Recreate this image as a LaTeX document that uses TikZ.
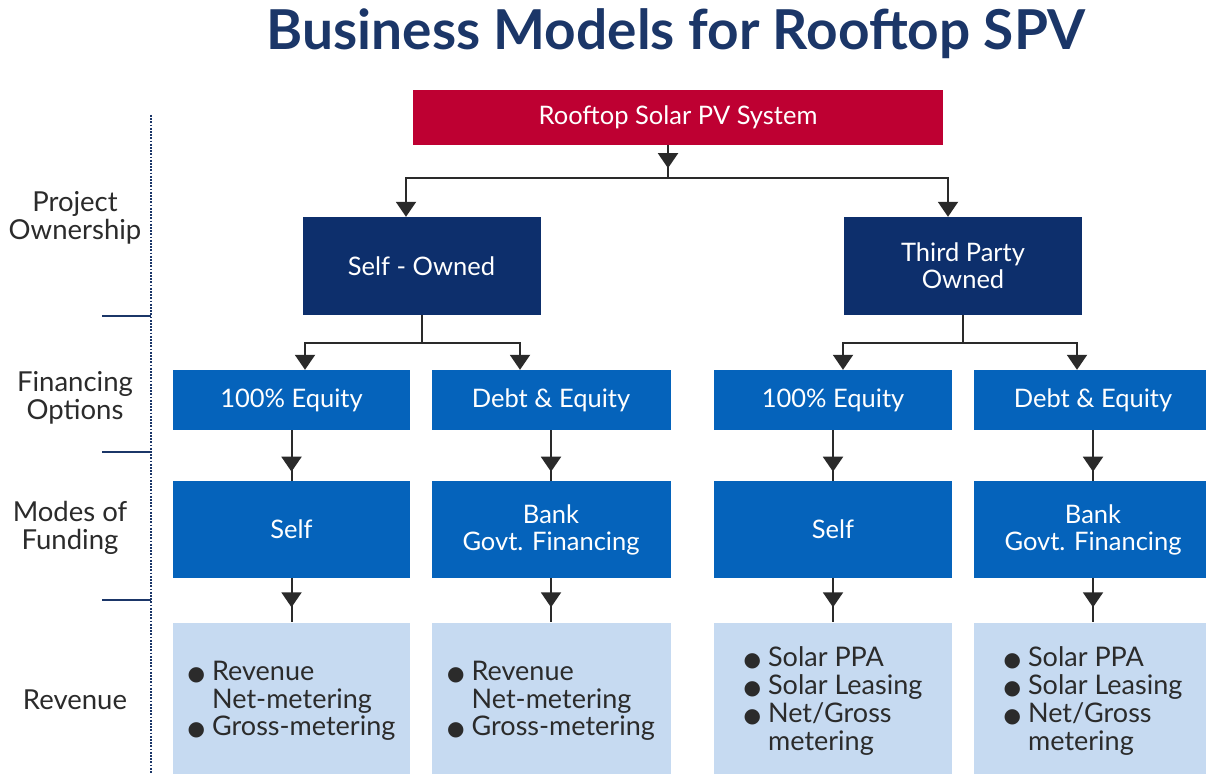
\documentclass[tikz,border=0pt]{standalone}
\usepackage{fontspec}
\setmainfont{Lato}
\newfontfamily\symfont{DejaVu Sans}
\usetikzlibrary{arrows.meta,decorations.markings,calc}

\definecolor{titlenavy}{HTML}{1B3668}
\definecolor{rootred}{HTML}{BE0032}
\definecolor{ownnavy}{HTML}{0D2F6C}
\definecolor{midblue}{HTML}{0563BB}
\definecolor{paleblue}{HTML}{C6DAF1}
\definecolor{inktext}{HTML}{2B2B2B}
\definecolor{linec}{HTML}{2A2A2A}

\newcommand\bul{{\symfont\fontsize{20}{20}\selectfont ●}}
\newcommand\revlist[1]{\raisebox{-4.5pt}[\height][\depth]{%
  \begin{tabular}{@{}c@{\hspace{7pt}}l@{}}#1\end{tabular}}}

\tikzset{
  box/.style={rectangle, inner sep=0pt, align=center, text=white,
    font=\fontsize{25.5}{27}\selectfont},
  rootbox/.style={box, fill=rootred, minimum width=530, minimum height=55},
  ownbox/.style={box, fill=ownnavy, minimum width=238, minimum height=98},
  finbox/.style={box, fill=midblue, minimum height=60},
  modebox/.style={box, fill=midblue, minimum height=97},
  revbox/.style={box, fill=paleblue, text=inktext, minimum height=151,
    font=\fontsize{27}{27}\selectfont},
  sidelabel/.style={align=center, text=inktext, inner sep=0pt,
    font=\fontsize{27.5}{28}\selectfont},
  conn/.style={color=linec, line width=2pt},
  endtip/.style={-{Triangle[width=20pt,length=15pt]}},
  midtip/.style={decoration={markings,
      mark=at position #1 with {\arrow{Triangle[width=20pt,length=15pt]}}},
    postaction={decorate}},
  tick/.style={draw=titlenavy, line width=2.5pt},
}

\begin{document}
\begin{tikzpicture}[x=1pt,y=-1pt]
\useasboundingbox[fill=white] (0,0) rectangle (1206,773);

% title
\node[text=titlenavy, font=\fontsize{55}{55}\selectfont\bfseries] (title) at (676,34)
  {Business Models for Rooftop SPV};

% side scale
\coordinate (scaletop) at (151,115);
\coordinate (scalebot) at (151,773);
\draw[titlenavy, line width=2.4pt, dash pattern=on 1.8pt off 1.4pt] (scaletop) -- (scalebot);
\coordinate (t1) at (151,316);
\coordinate (t2) at (151,452);
\coordinate (t3) at (151,600);
\draw[tick] (t1) -- ++(-49,0);
\draw[tick] (t2) -- ++(-49,0);
\draw[tick] (t3) -- ++(-49,0);

\node[sidelabel] (lab1) at (75,218) {Project\\Ownership};
\node[sidelabel] (lab2) at (75,398) {Financing\\Options};
\node[sidelabel] (lab3) at (70,528) {Modes of\\Funding};
\node[sidelabel] (lab4) at (75,700) {Revenue};

% boxes
\node[rootbox] (root) at (678,117.5) {Rooftop Solar PV System};

\node[ownbox] (self)  at (421.5,266) {Self - Owned};
\node[ownbox] (third) at (963,266) {Third Party\\Owned};

\node[finbox, minimum width=237] (f1) at (291.5,400) {100\% Equity};
\node[finbox, minimum width=239] (f2) at (551,400) {Debt \& Equity};
\node[finbox, minimum width=238] (f3) at (833,400) {100\% Equity};
\node[finbox, minimum width=238] (f4) at (1093,400) {Debt \& Equity};

\node[modebox, minimum width=237] (m1) at (291.5,529.5) {Self};
\node[modebox, minimum width=239] (m2) at (551,529.5) {Bank\\Govt. Financing};
\node[modebox, minimum width=238] (m3) at (833,529.5) {Self};
\node[modebox, minimum width=238] (m4) at (1093,529.5) {Bank\\Govt. Financing};

\node[revbox, minimum width=237] (r1) at (291.5,698)
  {\revlist{\bul & Revenue\\ & Net-metering\\ \bul & Gross-metering}};
\node[revbox, minimum width=239] (r2) at (551,698)
  {\revlist{\bul & Revenue\\ & Net-metering\\ \bul & Gross-metering}};
\node[revbox, minimum width=238] (r3) at (833,698)
  {\revlist{\bul & Solar PPA\\ \bul & Solar Leasing\\ \bul & Net/Gross\\ & metering}};
\node[revbox, minimum width=238] (r4) at (1093,698)
  {\revlist{\bul & Solar PPA\\ \bul & Solar Leasing\\ \bul & Net/Gross\\ & metering}};

% root to ownership
\coordinate (j0) at (668,178);
\draw[conn, midtip=0.7] (j0 |- root.south) -- (j0);
\draw[conn, endtip] (j0) -| ([xshift=-15.5]self.north);
\draw[conn, endtip] (j0) -| ([xshift=-15]third.north);

% ownership to financing
\coordinate (j1) at ($(self.south)+(0,28)$);
\coordinate (j2) at ($(third.south)+(0,28)$);
\draw[conn] (self.south) -- (j1);
\draw[conn, endtip] (j1) -| ([xshift=13.5]f1.north);
\draw[conn, endtip] (j1) -| ([xshift=-31]f2.north);
\draw[conn] (third.south) -- (j2);
\draw[conn, endtip] (j2) -| ([xshift=10]f3.north);
\draw[conn, endtip] (j2) -| ([xshift=-16]f4.north);

% financing to funding, funding to revenue
\foreach \i in {1,2,3,4} {
  \draw[conn, midtip=0.82] (f\i.south) -- (m\i.north);
  \draw[conn, midtip=0.66] (m\i.south) -- (r\i.north);
}
\end{tikzpicture}
\end{document}
